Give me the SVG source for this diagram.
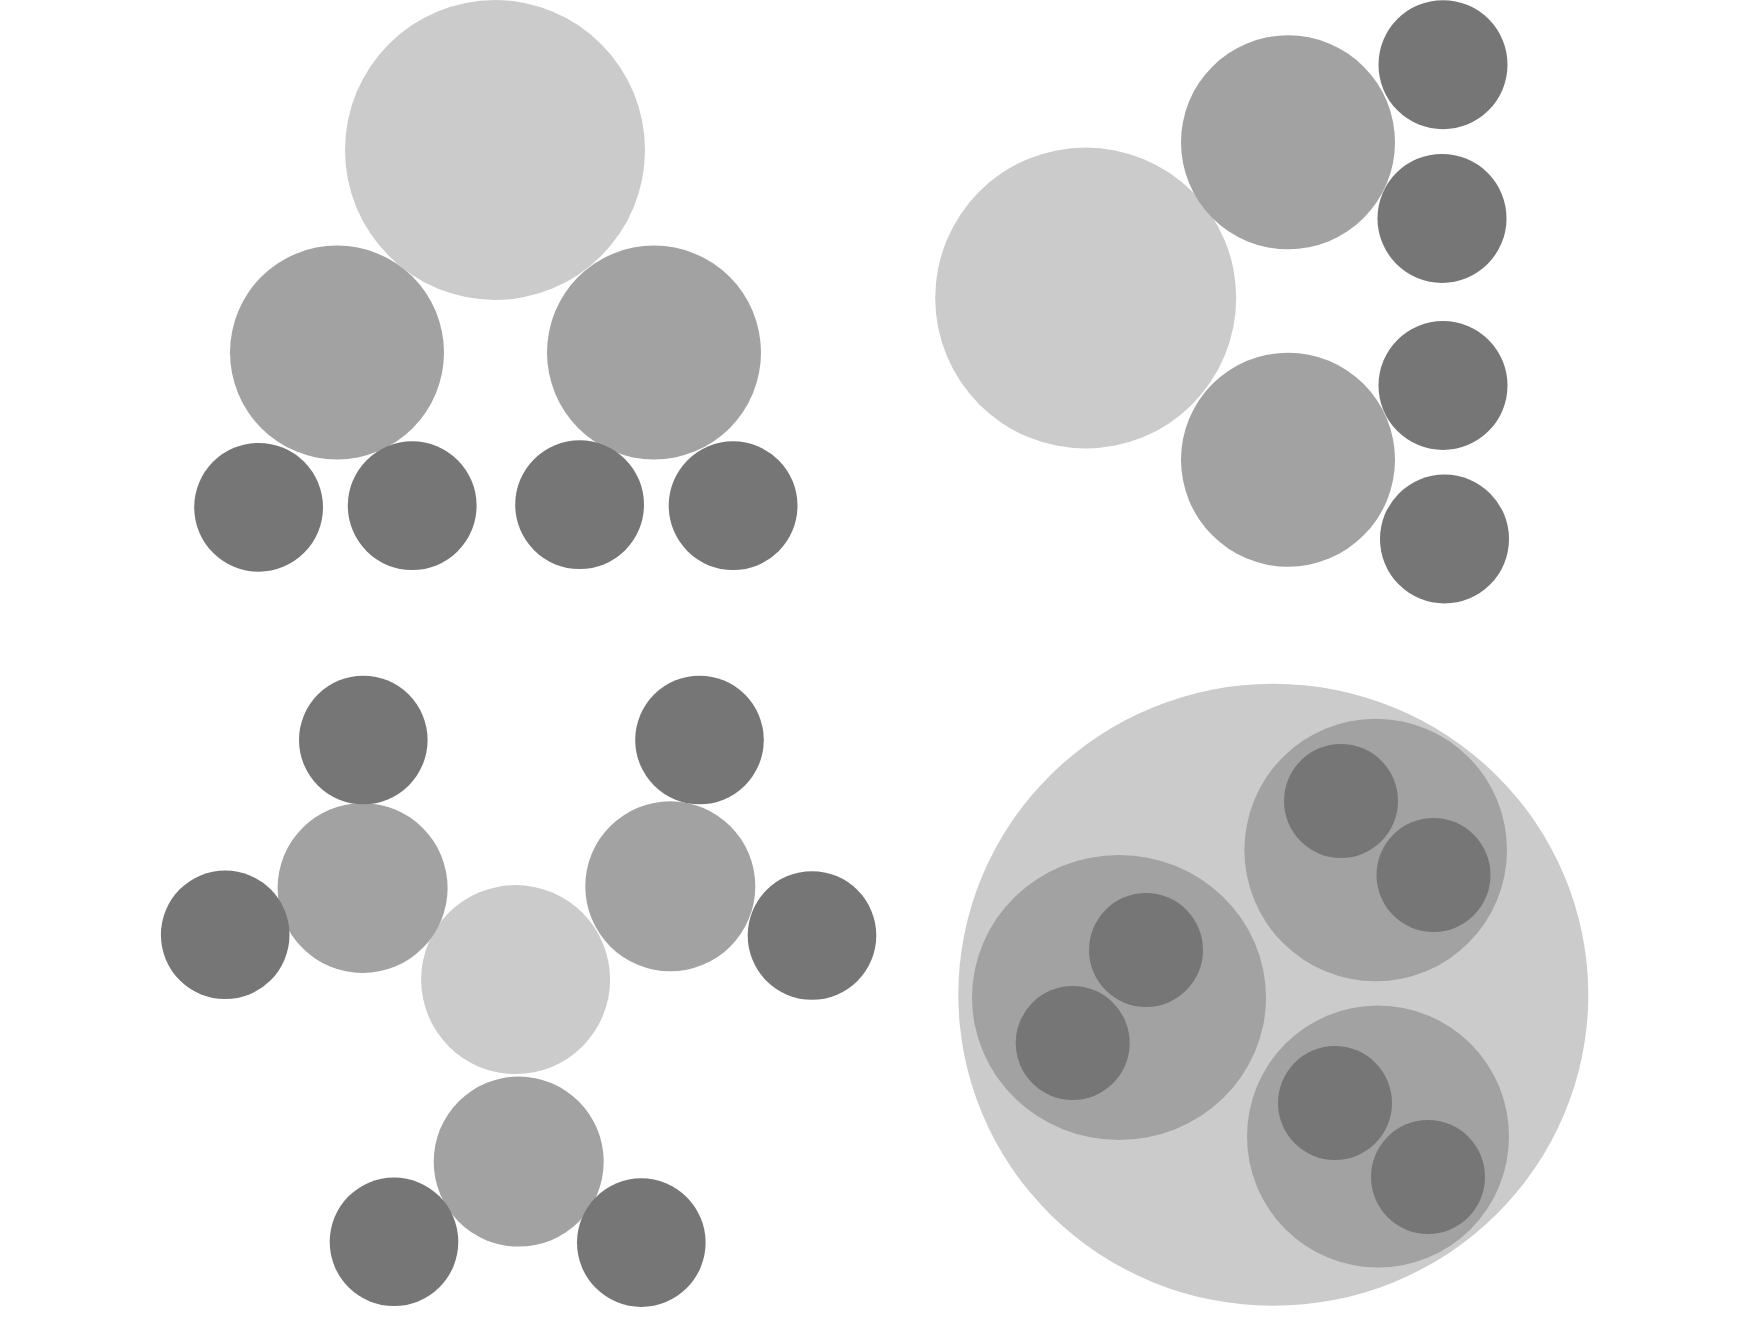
<svg xmlns="http://www.w3.org/2000/svg" width="1748" height="1330" viewBox="0 0 1748 1330">
<style>
.l{fill:#cbcbcb}
.m{fill:#a2a2a2}
.d{fill:#767676}
</style>
<rect width="1748" height="1330" fill="#ffffff"/>
<g id="connectors"></g>
<g id="tree-top-left">
<g id="tl-root"><circle class="l" cx="495" cy="150" r="150"/></g>
<g id="tl-a"><circle class="m" cx="337" cy="352.5" r="107"/></g>
<g id="tl-b"><circle class="m" cx="654" cy="352.5" r="107"/></g>
<g id="tl-a1"><circle class="d" cx="258.6" cy="507.3" r="64.4"/></g>
<g id="tl-a2"><circle class="d" cx="412.2" cy="505.7" r="64.4"/></g>
<g id="tl-b1"><circle class="d" cx="579.6" cy="504.7" r="64.4"/></g>
<g id="tl-b2"><circle class="d" cx="733.1" cy="505.7" r="64.4"/></g>
</g>
<g id="tree-top-right">
<g id="tr-root"><circle class="l" cx="1085.7" cy="298" r="150.5"/></g>
<g id="tr-a"><circle class="m" cx="1288" cy="142.3" r="107"/></g>
<g id="tr-b"><circle class="m" cx="1288" cy="459.7" r="107"/></g>
<g id="tr-a1"><circle class="d" cx="1443" cy="64.7" r="64.5"/></g>
<g id="tr-a2"><circle class="d" cx="1442" cy="218.4" r="64.5"/></g>
<g id="tr-b1"><circle class="d" cx="1443" cy="385.5" r="64.5"/></g>
<g id="tr-b2"><circle class="d" cx="1444.5" cy="539" r="64.5"/></g>
</g>
<g id="tree-bottom-left">
<g id="bl-root"><circle class="l" cx="515.6" cy="979.6" r="94.5"/></g>
<g id="bl-a"><circle class="m" cx="362.6" cy="888" r="85"/></g>
<g id="bl-b"><circle class="m" cx="670.3" cy="886.3" r="85"/></g>
<g id="bl-c"><circle class="m" cx="518.7" cy="1161.6" r="85"/></g>
<g id="bl-a1"><circle class="d" cx="363.3" cy="740" r="64.3"/></g>
<g id="bl-a2"><circle class="d" cx="225.2" cy="934.8" r="64.3"/></g>
<g id="bl-b1"><circle class="d" cx="699.5" cy="740" r="64.3"/></g>
<g id="bl-b2"><circle class="d" cx="812" cy="935.5" r="64.3"/></g>
<g id="bl-c1"><circle class="d" cx="394" cy="1241.8" r="64.3"/></g>
<g id="bl-c2"><circle class="d" cx="641.3" cy="1242.6" r="64.3"/></g>
</g>
<g id="tree-bottom-right">
<g id="br-root"><ellipse class="l" cx="1273.3" cy="994.8" rx="315" ry="311"/></g>
<g id="br-a"><ellipse class="m" cx="1119" cy="997.5" rx="147" ry="142.5"/></g>
<g id="br-b"><circle class="m" cx="1375.7" cy="850" r="131.3"/></g>
<g id="br-c"><circle class="m" cx="1378" cy="1136.5" r="131"/></g>
<g id="br-a1"><circle class="d" cx="1146" cy="950" r="57"/></g>
<g id="br-a2"><circle class="d" cx="1072.7" cy="1043" r="57"/></g>
<g id="br-b1"><circle class="d" cx="1341" cy="801" r="57"/></g>
<g id="br-b2"><circle class="d" cx="1433.5" cy="875" r="57"/></g>
<g id="br-c1"><circle class="d" cx="1335" cy="1103" r="57"/></g>
<g id="br-c2"><circle class="d" cx="1428" cy="1177" r="57"/></g>
</g>
</svg>
